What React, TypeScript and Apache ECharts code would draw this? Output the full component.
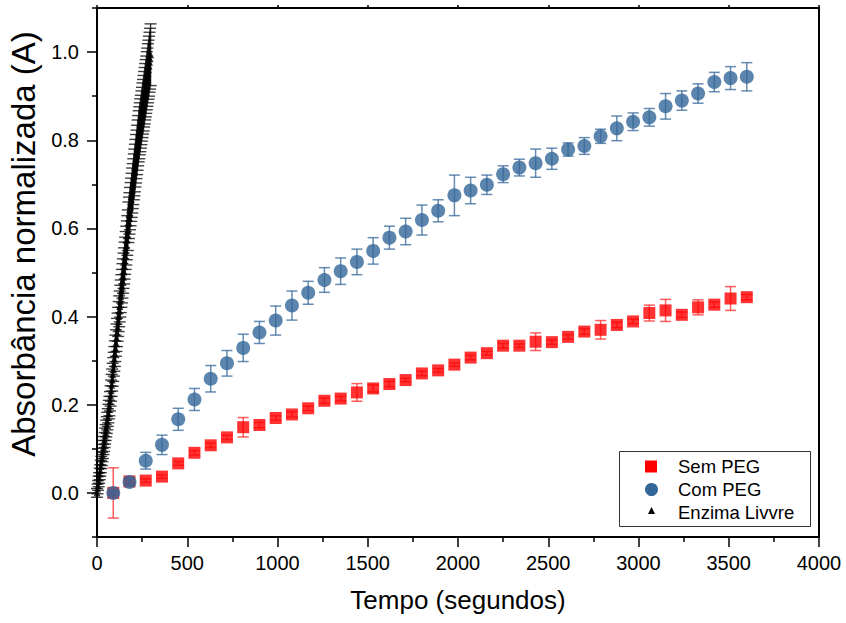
import React, { useEffect, useRef } from 'react';
import * as echarts from 'echarts';

// Tempo (s) for the PEG series
const timeSec = [
  90, 180, 270, 360, 450, 540, 630, 720, 810, 900,
  990, 1080, 1170, 1260, 1350, 1440, 1530, 1620, 1710, 1800,
  1890, 1980, 2070, 2160, 2250, 2340, 2430, 2520, 2610, 2700,
  2790, 2880, 2970, 3060, 3150, 3240, 3330, 3420, 3510, 3600,
];

const semPEG = [
  0.000, 0.026, 0.028, 0.037, 0.067, 0.091, 0.108, 0.126, 0.149, 0.154,
  0.170, 0.178, 0.192, 0.209, 0.214, 0.228, 0.237, 0.247, 0.256, 0.271,
  0.278, 0.291, 0.307, 0.317, 0.334, 0.334, 0.343, 0.342, 0.354, 0.366,
  0.370, 0.381, 0.389, 0.408, 0.414, 0.404, 0.421, 0.427, 0.441, 0.444,
];
const semPEGErr = [
  0.057, 0.006, 0.004, 0.004, 0.004, 0.005, 0.005, 0.005, 0.022, 0.006,
  0.005, 0.006, 0.005, 0.006, 0.005, 0.020, 0.008, 0.006, 0.004, 0.005,
  0.004, 0.004, 0.005, 0.004, 0.005, 0.004, 0.020, 0.005, 0.005, 0.006,
  0.021, 0.006, 0.005, 0.018, 0.025, 0.006, 0.017, 0.006, 0.027, 0.006,
];

const comPEG = [
  0.000, 0.025, 0.073, 0.109, 0.167, 0.212, 0.259, 0.294, 0.329, 0.364,
  0.391, 0.425, 0.454, 0.483, 0.503, 0.524, 0.549, 0.579, 0.593, 0.619,
  0.640, 0.675, 0.686, 0.699, 0.723, 0.738, 0.748, 0.758, 0.779, 0.787,
  0.809, 0.827, 0.842, 0.852, 0.877, 0.890, 0.906, 0.932, 0.941, 0.944,
];
const comPEGErr = [
  0.004, 0.008, 0.019, 0.022, 0.025, 0.025, 0.030, 0.029, 0.031, 0.025,
  0.033, 0.033, 0.026, 0.028, 0.030, 0.029, 0.030, 0.026, 0.030, 0.034,
  0.025, 0.046, 0.030, 0.022, 0.019, 0.019, 0.032, 0.024, 0.015, 0.019,
  0.016, 0.028, 0.020, 0.020, 0.029, 0.022, 0.022, 0.022, 0.026, 0.032,
];

// Enzima livre (dense kinetic run, every 3 s)
const livreTime = [
  0, 3, 6, 9, 12, 15, 18, 21, 24, 27,
  30, 33, 36, 39, 42, 45, 48, 51, 54, 57,
  60, 63, 66, 69, 72, 75, 78, 81, 84, 87,
  90, 93, 96, 99, 102, 105, 108, 111, 114, 117,
  120, 123, 126, 129, 132, 135, 138, 141, 144, 147,
  150, 153, 156, 159, 162, 165, 168, 171, 174, 177,
  180, 183, 186, 189, 192, 195, 198, 201, 204, 207,
  210, 213, 216, 219, 222, 225, 228, 231, 234, 237,
  240, 243, 246, 249, 252, 255, 258, 261, 264, 267,
  270, 273, 276, 279, 282, 285, 288, 291, 294, 297,
];
const livre = [
  0.000, 0.009, 0.017, 0.026, 0.034, 0.043, 0.051, 0.060, 0.069, 0.077,
  0.086, 0.094, 0.103, 0.111, 0.120, 0.129, 0.137, 0.146, 0.154, 0.163,
  0.171, 0.180, 0.189, 0.197, 0.208, 0.220, 0.232, 0.244, 0.256, 0.268,
  0.280, 0.292, 0.304, 0.316, 0.328, 0.340, 0.352, 0.364, 0.376, 0.388,
  0.400, 0.412, 0.423, 0.435, 0.446, 0.458, 0.469, 0.481, 0.492, 0.504,
  0.515, 0.527, 0.538, 0.550, 0.561, 0.573, 0.584, 0.596, 0.614, 0.624,
  0.634, 0.645, 0.655, 0.665, 0.675, 0.686, 0.696, 0.706, 0.717, 0.727,
  0.737, 0.748, 0.758, 0.768, 0.778, 0.789, 0.799, 0.809, 0.817, 0.826,
  0.834, 0.842, 0.851, 0.859, 0.868, 0.876, 0.884, 0.893, 0.901, 0.910,
  0.918, 0.926, 0.935, 0.943, 0.952, 0.960, 0.968, 0.977, 0.985, 0.994,
];
const livreErr = [
  0.010, 0.011, 0.011, 0.012, 0.012, 0.013, 0.013, 0.014, 0.014, 0.015,
  0.015, 0.016, 0.016, 0.017, 0.017, 0.018, 0.018, 0.019, 0.019, 0.020,
  0.020, 0.021, 0.021, 0.022, 0.022, 0.023, 0.024, 0.025, 0.025, 0.026,
  0.027, 0.027, 0.028, 0.029, 0.030, 0.030, 0.031, 0.032, 0.032, 0.033,
  0.034, 0.035, 0.035, 0.036, 0.037, 0.037, 0.038, 0.039, 0.039, 0.040,
  0.041, 0.042, 0.042, 0.043, 0.044, 0.044, 0.045, 0.046, 0.046, 0.047,
  0.047, 0.048, 0.049, 0.049, 0.050, 0.051, 0.051, 0.052, 0.052, 0.053,
  0.054, 0.054, 0.055, 0.055, 0.056, 0.057, 0.057, 0.058, 0.059, 0.059,
  0.060, 0.060, 0.061, 0.061, 0.062, 0.062, 0.063, 0.063, 0.064, 0.064,
  0.065, 0.065, 0.066, 0.066, 0.067, 0.067, 0.068, 0.068, 0.069, 0.070,
];

const yMajorTicks = [0, 0.2, 0.4, 0.6, 0.8, 1.0];
const yMinorTicks = [-0.1, 0.1, 0.3, 0.5, 0.7, 0.9, 1.1];

const legendNames = ['Sem PEG', 'Com PEG', 'Enzima Livvre'];
const xTitle = 'Tempo (segundos)';
const yTitle = 'Absorbância normalizada (A)';

const FONT = '"Liberation Sans", Arial, Helvetica, sans-serif';

function errSeries(name: string, xs: number[], ys: number[], es: number[], color: string, capHalf: number, lw: number, z: number) {
  return {
    type: 'custom',
    name,
    z,
    silent: true,
    clip: false,
    data: xs.map((x, i) => [x, ys[i], es[i]]),
    encode: { x: 0, y: 1 },
    renderItem: (params: any, api: any) => {
      const x = api.value(0);
      const y = api.value(1);
      const e = api.value(2);
      const t = api.coord([x, y + e]);
      const b = api.coord([x, y - e]);
      const st = { stroke: color, lineWidth: lw, fill: null };
      return {
        type: 'group',
        children: [
          { type: 'line', shape: { x1: t[0], y1: t[1], x2: b[0], y2: b[1] }, style: st },
          { type: 'line', shape: { x1: t[0] - capHalf, y1: t[1], x2: t[0] + capHalf, y2: t[1] }, style: st },
          { type: 'line', shape: { x1: b[0] - capHalf, y1: b[1], x2: b[0] + capHalf, y2: b[1] }, style: st },
        ],
      };
    },
  };
}

export default function App() {
  const ref = useRef<HTMLDivElement>(null);
  useEffect(() => {
    if (!ref.current) return;
    const chart = echarts.init(ref.current, null, { renderer: 'svg' });
    const axisLineStyle = { color: '#000', width: 2 };
    const tickStyle = { color: '#000', width: 1.5 };
    const option: any = {
      animation: false,
      backgroundColor: '#fff',
      grid: { left: 97, right: 27, top: 8, bottom: 86, containLabel: false },
      xAxis: [
        {
          type: 'value', min: 0, max: 4000, interval: 500, position: 'bottom',
          axisLine: { show: true, onZero: false, lineStyle: axisLineStyle },
          axisTick: { show: true, length: 10, lineStyle: tickStyle },
          minorTick: { show: true, splitNumber: 2, length: 5, lineStyle: tickStyle },
          splitLine: { show: false },
          axisLabel: { fontSize: 20, color: '#000', margin: 16, fontFamily: FONT, formatter: (v: number) => String(v) },
          name: xTitle, nameLocation: 'middle', nameGap: 50,
          nameTextStyle: { fontSize: 26, color: '#000', fontFamily: FONT },
        },
        {
          type: 'value', min: 0, max: 4000, interval: 500, position: 'top',
          axisLine: { show: true, onZero: false, lineStyle: axisLineStyle },
          axisTick: { show: true, length: 3, lineStyle: tickStyle },
          minorTick: { show: false },
          splitLine: { show: false },
          axisLabel: { show: false },
        },
      ],
      yAxis: [
        {
          type: 'value', min: -0.1, max: 1.1, interval: 0.1, position: 'left',
          axisLine: { show: true, onZero: false, lineStyle: axisLineStyle },
          axisTick: { show: true, length: 10, lineStyle: tickStyle, customValues: yMajorTicks },
          splitLine: { show: false },
          axisLabel: {
            fontSize: 20, color: '#000', margin: 18, fontFamily: FONT,
            customValues: yMajorTicks,
            formatter: (v: number) => v.toFixed(1),
          },
        },
        {
          type: 'value', min: -0.1, max: 1.1, interval: 0.1, position: 'left',
          axisLine: { show: false, onZero: false },
          axisTick: { show: true, length: 5, lineStyle: tickStyle, customValues: yMinorTicks },
          splitLine: { show: false },
          axisLabel: { show: false },
        },
        {
          type: 'value', min: -0.1, max: 1.1, interval: 0.1, position: 'right',
          axisLine: { show: true, onZero: false, lineStyle: axisLineStyle },
          axisTick: { show: false },
          splitLine: { show: false },
          axisLabel: { show: false },
        },
      ],
      series: [
        errSeries('Sem PEG err', timeSec, semPEG, semPEGErr, 'rgba(255,40,40,0.75)', 5.5, 1.5, 2),
        {
          type: 'scatter', name: legendNames[0], symbol: 'rect', symbolSize: 12, z: 3,
          itemStyle: { color: '#FF0000' },
          data: timeSec.map((x, i) => [x, semPEG[i]]),
        },
        errSeries('Com PEG err', timeSec, comPEG, comPEGErr, 'rgba(51,102,153,0.75)', 5.5, 1.5, 4),
        {
          type: 'scatter', name: legendNames[1], symbol: 'circle', symbolSize: 14, z: 5,
          itemStyle: { color: '#336699' },
          data: timeSec.map((x, i) => [x, comPEG[i]]),
        },
        errSeries('Enzima Livre err', livreTime, livre, livreErr, 'rgba(0,0,0,0.75)', 6, 1.4, 6),
        {
          type: 'scatter', name: legendNames[2], symbol: 'triangle', symbolSize: 7, z: 7,
          itemStyle: { color: '#000' },
          data: livreTime.map((x, i) => [x, livre[i]]),
        },
      ],
      graphic: [
        {
          type: 'text', z: 50, x: 23, y: 244, rotation: Math.PI / 2,
          style: {
            text: yTitle, fontSize: 33, fontFamily: FONT, fill: '#000',
            align: 'center', verticalAlign: 'middle',
          },
        },
        {
          type: 'rect', left: 619, top: 451, z: 100,
          shape: { width: 191, height: 75 },
          style: { fill: '#fff', stroke: '#333', lineWidth: 1 },
        },
        {
          type: 'rect', z: 101, shape: { x: 645, y: 460.5, width: 12, height: 12 },
          style: { fill: '#FF0000' },
        },
        {
          type: 'circle', z: 101, shape: { cx: 651.5, cy: 489.5, r: 6.5 },
          style: { fill: '#336699' },
        },
        {
          type: 'polygon', z: 101, shape: { points: [[651.5, 507], [655, 514], [648, 514]] },
          style: { fill: '#000' },
        },
        {
          type: 'text', z: 101, x: 678, y: 466.5,
          style: { text: legendNames[0], fontSize: 18.5, fontFamily: FONT, fill: '#000', verticalAlign: 'middle' },
        },
        {
          type: 'text', z: 101, x: 678, y: 489.5,
          style: { text: legendNames[1], fontSize: 18.5, fontFamily: FONT, fill: '#000', verticalAlign: 'middle' },
        },
        {
          type: 'text', z: 101, x: 678, y: 512,
          style: { text: legendNames[2], fontSize: 18.5, fontFamily: FONT, fill: '#000', verticalAlign: 'middle' },
        },
      ],
    };
    chart.setOption(option);
    return () => chart.dispose();
  }, []);
  return (
    <div
      ref={ref}
      style={{ position: 'fixed', left: 0, top: 0, width: 846, height: 623, background: '#fff' }}
    />
  );
}
